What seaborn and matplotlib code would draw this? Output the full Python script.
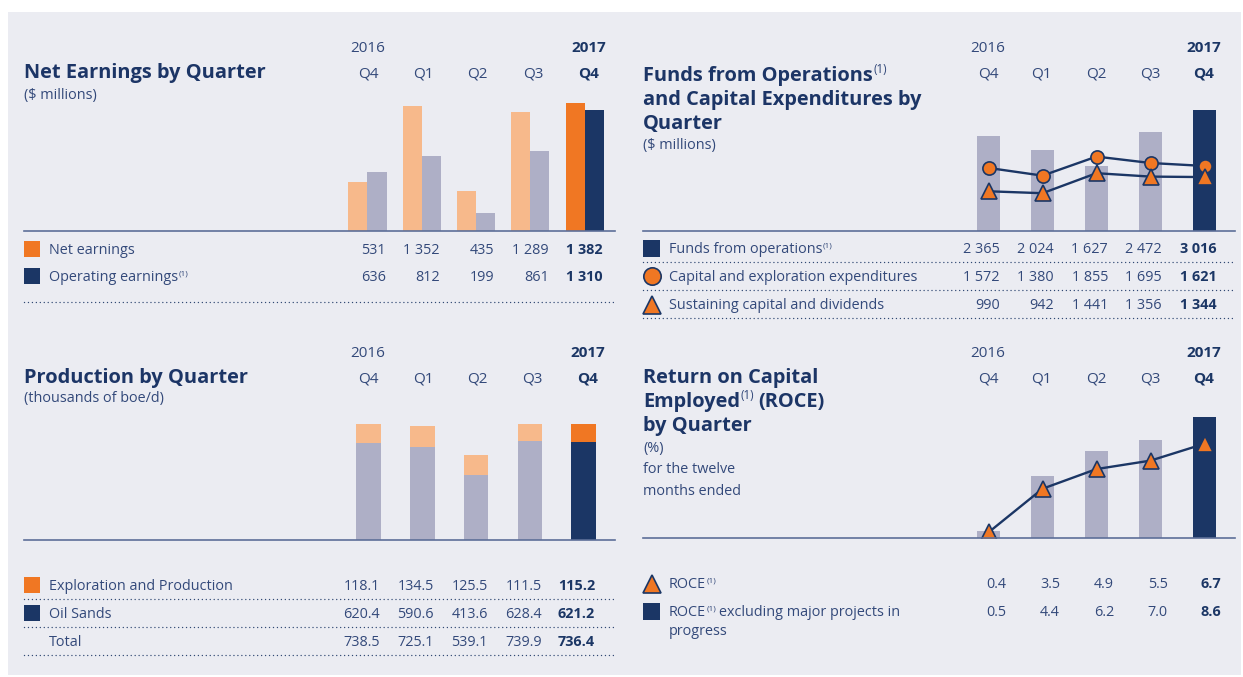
import numpy as np
import pandas as pd
import matplotlib
matplotlib.use("Agg")
import matplotlib.pyplot as plt
from matplotlib.patches import Rectangle
import seaborn as sns

sns.set_theme(style="white")
plt.rcParams['font.family'] = ['Open Sans', 'DejaVu Sans']

# ---------------- data ----------------
periods = ['2016 Q4', '2017 Q1', '2017 Q2', '2017 Q3', '2017 Q4']
quarter_labels = ['Q4', 'Q1', 'Q2', 'Q3', 'Q4']
year_labels = ['2016', '2017']

net_earnings = [531, 1352, 435, 1289, 1382]
operating_earnings = [636, 812, 199, 861, 1310]

funds_from_operations = [2365, 2024, 1627, 2472, 3016]
capital_expenditures = [1572, 1380, 1855, 1695, 1621]
sustaining_capital = [990, 942, 1441, 1356, 1344]

exploration_production = [118.1, 134.5, 125.5, 111.5, 115.2]
oil_sands = [620.4, 590.6, 413.6, 628.4, 621.2]
production_total = [738.5, 725.1, 539.1, 739.9, 736.4]

roce = [0.4, 3.5, 4.9, 5.5, 6.7]
roce_excl = [0.5, 4.4, 6.2, 7.0, 8.6]

# ---------------- style ----------------
W, H = 1243, 677
BG = '#EBECF2'
NAVY = '#1B3665'
ORANGE = '#F07723'
LORANGE = '#F7B98B'
GRAY = '#AEAFC6'
TEXT = '#33497A'
TITLE = '#1C3566'
SPINE = '#5D6F98'
TS = 14.4   # title size
BS = 10.4   # body size

fig = plt.figure(figsize=(W / 100, H / 100), dpi=100, facecolor='white')
ov = fig.add_axes([0, 0, 1, 1], zorder=0)
ov.set_xlim(0, W)
ov.set_ylim(H, 0)
ov.axis('off')
ov.add_patch(Rectangle((8, 12), 1233, 663, color=BG, zorder=0, lw=0))

renderer = fig.canvas.get_renderer()
PX = 100 / 72.0


def fmt_int(v):
    return f"{v:,}".replace(',', ' ')


def fmt_dec(v):
    return f"{v:.1f}"


def rich(x, yc, parts, size, color=TEXT, weight='normal'):
    """parts: list of (text, is_sup, gap_before_px)"""
    base = yc + 0.357 * size * PX
    cx = x
    for s, sup, gap in parts:
        cx += gap
        if sup:
            t = ov.text(cx + 0.5, base - 0.42 * size * PX, s, fontsize=size * 0.58,
                        color=TEXT, va='baseline', ha='left')
        else:
            t = ov.text(cx, base, s, fontsize=size, color=color, va='baseline',
                        ha='left', fontweight=weight)
        bb = t.get_window_extent(renderer=renderer)
        cx += bb.width + (0.5 if sup else 0)
    return cx


def txt(x, yc, s, size, color=TEXT, weight='normal', ha='left'):
    base = yc + 0.357 * size * PX
    ov.text(x, base, s, fontsize=size, color=color, va='baseline', ha=ha,
            fontweight=weight)


def header(xs, y_year, y_q):
    txt(xs[0], y_year, year_labels[0], 11, TEXT, ha='center')
    txt(xs[-1], y_year, year_labels[1], 11, NAVY, 'bold', ha='center')
    for i, (xq, q) in enumerate(zip(xs, quarter_labels)):
        last = i == len(xs) - 1
        txt(xq, y_q, q, 11, NAVY if last else TEXT, 'bold' if last else 'normal',
            ha='center')


def row_values(xs_right, yc, labels):
    for i, (xr, lab) in enumerate(zip(xs_right, labels)):
        last = i == len(labels) - 1
        txt(xr, yc, lab, BS, NAVY if last else TEXT, 'bold' if last else 'normal',
            ha='right')


def dotted(x0, x1, y):
    ov.plot([x0, x1], [y, y], color=NAVY, lw=1.05, ls=(0, (0.01, 2.7)),
            dash_capstyle='round', alpha=0.9)


def square(x, yc, color, size=16):
    ov.add_patch(Rectangle((x, yc - size / 2), size, size, color=color, lw=0))


def chart_axes(left, right, top, base, c0, step, kpx):
    ax = fig.add_axes([left / W, 1 - base / H, (right - left) / W, (base - top) / H],
                      zorder=1)
    ax.patch.set_alpha(0)
    return ax, ((left - c0) / step, (right - c0) / step), (0, (base - top) / kpx)


def finish(ax, xlim, ylim):
    ax.set_xlim(*xlim)
    ax.set_ylim(*ylim)
    ax.set_xticks([])
    ax.set_yticks([])
    ax.set_xlabel('')
    ax.set_ylabel('')
    for s in ['top', 'left', 'right']:
        ax.spines[s].set_visible(False)
    ax.spines['bottom'].set_color(SPINE)
    ax.spines['bottom'].set_linewidth(1.2)


# ================= Panel 1: Net earnings =================
rich(24, 71, [('Net Earnings by Quarter', False, 0)], TS, TITLE, 'bold')
txt(24, 94, '($ millions)', BS, TEXT)
header([368, 423, 477, 533, 589], 47, 72)

ax1, xl, yl = chart_axes(24, 615, 95, 231, 367.5, 54.3, 128 / 1382)
df1 = pd.DataFrame({
    'period': periods * 2,
    'series': ['Net earnings'] * 5 + ['Operating earnings'] * 5,
    'value': net_earnings + operating_earnings,
})
sns.barplot(data=df1, x='period', y='value', hue='series', order=periods,
            palette=[LORANGE, GRAY], width=0.7, saturation=1, linewidth=0,
            errorbar=None, legend=False, ax=ax1)
for p in ax1.patches:
    cx = p.get_x() + p.get_width() / 2
    if cx > 3.5:
        p.set_facecolor(ORANGE if cx < 4 else NAVY)
finish(ax1, xl, yl)

square(24, 249, ORANGE)
txt(49, 249, 'Net earnings', BS)
row_values([386, 440, 494, 549, 603], 249, [fmt_int(v) for v in net_earnings])
square(24, 276, NAVY)
rich(49, 276, [('Operating earnings', False, 0), ('(1)', True, 0)], BS, TEXT)
row_values([386, 440, 494, 549, 603], 276, [fmt_int(v) for v in operating_earnings])
dotted(24, 615, 302)

# ================= Panel 2: Funds from operations =================
rich(643, 74, [('Funds from Operations', False, 0), ('(1)', True, 0)], TS, TITLE, 'bold')
rich(643, 98, [('and Capital Expenditures by', False, 0)], TS, TITLE, 'bold')
rich(643, 122, [('Quarter', False, 0)], TS, TITLE, 'bold')
txt(643, 144, '($ millions)', BS, TEXT)
header([988, 1041, 1096, 1150, 1204], 47, 72)

ax2, xl, yl = chart_axes(643, 1235, 100, 231, 988.5, 54, 121 / 3016)
sns.barplot(x=periods, y=funds_from_operations, color=GRAY, width=0.41,
            saturation=1, linewidth=0, errorbar=None, ax=ax2)
ax2.patches[-1].set_facecolor(NAVY)
sns.lineplot(x=periods, y=capital_expenditures, color=NAVY, lw=1.7, marker='o',
             markersize=9.5, markerfacecolor=ORANGE, markeredgecolor=NAVY,
             markeredgewidth=1.2, sort=False, ax=ax2)
sns.lineplot(x=periods, y=sustaining_capital, color=NAVY, lw=1.7, marker='^',
             markersize=12, markerfacecolor=ORANGE, markeredgecolor=NAVY,
             markeredgewidth=1.2, sort=False, ax=ax2)
finish(ax2, xl, yl)

xs2 = [1000, 1054, 1108, 1162, 1217]
square(643, 248, NAVY, 17)
rich(669, 248, [('Funds from operations', False, 0), ('(1)', True, 0)], BS, TEXT)
row_values(xs2, 248, [fmt_int(v) for v in funds_from_operations])
dotted(643, 1235, 262)
ov.plot([652], [276], marker='o', ms=12.5, mfc=ORANGE, mec=NAVY, mew=1.2)
txt(669, 276, 'Capital and exploration expenditures', BS)
row_values(xs2, 276, [fmt_int(v) for v in capital_expenditures])
dotted(643, 1235, 290)
ov.plot([652], [305], marker='^', ms=12.5, mfc=ORANGE, mec=NAVY, mew=1.2)
txt(669, 304, 'Sustaining capital and dividends', BS)
row_values(xs2, 304, [fmt_int(v) for v in sustaining_capital])
dotted(643, 1235, 318)

# ================= Panel 3: Production =================
rich(24, 376, [('Production by Quarter', False, 0)], TS, TITLE, 'bold')
txt(24, 397, '(thousands of boe/d)', BS, TEXT)
header([368, 423, 477, 532, 588], 352, 377)

ax3, xl, yl = chart_axes(24, 615, 410, 540, 368.5, 53.8, 116 / 738.5)
sns.barplot(x=periods, y=production_total, color=LORANGE, width=0.46,
            saturation=1, linewidth=0, errorbar=None, ax=ax3)
sns.barplot(x=periods, y=oil_sands, color=GRAY, width=0.46,
            saturation=1, linewidth=0, errorbar=None, ax=ax3)
ax3.patches[4].set_facecolor(ORANGE)
ax3.patches[9].set_facecolor(NAVY)
finish(ax3, xl, yl)

xs3 = [380, 434, 488, 542, 595]
square(24, 585, ORANGE)
txt(49, 585, 'Exploration and Production', BS)
row_values(xs3, 585, [fmt_dec(v) for v in exploration_production])
dotted(24, 615, 599)
square(24, 613, NAVY)
txt(49, 613, 'Oil Sands', BS)
row_values(xs3, 613, [fmt_dec(v) for v in oil_sands])
dotted(24, 615, 627)
txt(49, 641, 'Total', BS)
row_values(xs3, 641, [fmt_dec(v) for v in production_total])
dotted(24, 615, 655)

# ================= Panel 4: ROCE =================
rich(643, 376, [('Return on Capital', False, 0)], TS, TITLE, 'bold')
rich(643, 400, [('Employed', False, 0), ('(1)', True, 0), ('(ROCE)', False, 4)],
     TS, TITLE, 'bold')
rich(643, 424, [('by Quarter', False, 0)], TS, TITLE, 'bold')
txt(643, 447, '(%)', BS, TEXT)
txt(643, 468, 'for the twelve', BS, TEXT)
txt(643, 490, 'months ended', BS, TEXT)
header([988, 1041, 1096, 1150, 1204], 352, 377)

ax4, xl, yl = chart_axes(643, 1235, 405, 538, 988.5, 54, 121 / 8.6)
sns.barplot(x=periods, y=roce_excl, color=GRAY, width=0.41, saturation=1,
            linewidth=0, errorbar=None, ax=ax4)
ax4.patches[-1].set_facecolor(NAVY)
sns.lineplot(x=periods, y=roce, color=NAVY, lw=1.7, marker='^', markersize=12,
             markerfacecolor=ORANGE, markeredgecolor=NAVY, markeredgewidth=1.2,
             sort=False, ax=ax4)
finish(ax4, xl, yl)

xs4 = [1006, 1060, 1114, 1168, 1221]
ov.plot([652], [584], marker='^', ms=12.5, mfc=ORANGE, mec=NAVY, mew=1.2)
rich(669, 583, [('ROCE', False, 0), ('(1)', True, 0)], BS, TEXT)
row_values(xs4, 583, [fmt_dec(v) for v in roce])
square(643, 611, NAVY, 17)
rich(669, 611, [('ROCE', False, 0), ('(1)', True, 0),
                ('excluding major projects in', False, 3)], BS, TEXT)
txt(669, 630, 'progress', BS)
row_values(xs4, 611, [fmt_dec(v) for v in roce_excl])

fig.savefig('out.png', dpi=100, facecolor='white')
